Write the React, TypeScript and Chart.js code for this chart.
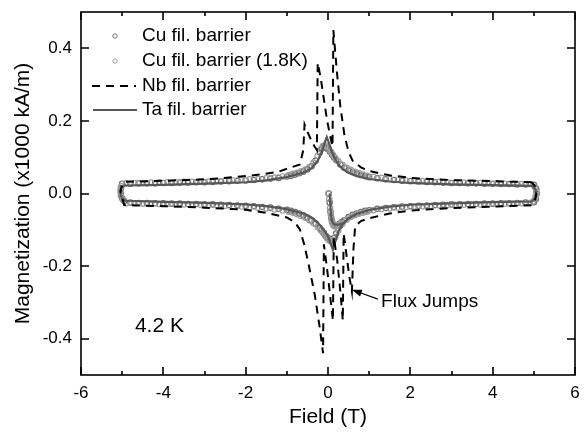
import React, { useEffect, useRef } from "react";
import { Chart, registerables } from "chart.js";

Chart.register(...registerables);

const FONT_FAMILY = '"Liberation Sans", Arial, Helvetica, sans-serif';

// Axis ticks: field (T) and magnetization (x1000 kA/m)
const fieldTicks = [-6, -4, -2, 0, 2, 4, 6];
const fieldMinorTicks = [-5, -3, -1, 1, 3, 5];
const magTicks = [-0.4, -0.2, 0.0, 0.2, 0.4];

const legendLabels = [
  "Cu fil. barrier",
  "Cu fil. barrier (1.8K)",
  "Nb fil. barrier",
  "Ta fil. barrier",
];
const temperatureLabel = "4.2 K";
const annotationLabel = "Flux Jumps";

// ---- Cu filament barrier, 4.2 K (open circles) ----
const cu42VirginField = [0.02, 0.04, 0.06, 0.08, 0.1, 0.13, 0.17, 0.22, 0.28, 0.34];
const cu42VirginM = [0.0, -0.025, -0.05, -0.067, -0.078, -0.086, -0.09, -0.088, -0.083, -0.078];

const cu42DownField = [
  5.0, 4.8, 4.6, 4.4, 4.2, 4.0, 3.8, 3.6, 3.4, 3.2, 3.0, 2.8, 2.6, 2.4, 2.2, 2.0, 1.8, 1.6, 1.4, 1.2, 1.0,
  0.9, 0.8, 0.7, 0.6, 0.5, 0.4, 0.3,
  0.2, 0.15, 0.1, 0.05, 0.0, -0.05, -0.1, -0.15, -0.2,
  -0.3, -0.4, -0.5, -0.6, -0.7, -0.8, -0.9,
  -1.0, -1.2, -1.4, -1.6, -1.8, -2.0, -2.2, -2.4, -2.6, -2.8, -3.0, -3.2, -3.4, -3.6, -3.8, -4.0, -4.2, -4.4, -4.6, -4.8, -5.0,
  -5.03, -5.03,
];
const cu42DownM = [
  0.024, 0.025, 0.025, 0.026, 0.026, 0.027, 0.027, 0.028, 0.028, 0.029, 0.029, 0.03, 0.031, 0.032, 0.033, 0.034, 0.035, 0.037, 0.039, 0.042, 0.045,
  0.048, 0.051, 0.055, 0.059, 0.064, 0.071, 0.08,
  0.092, 0.099, 0.107, 0.115, 0.122, 0.127, 0.129, 0.124, 0.113,
  0.09, 0.075, 0.066, 0.06, 0.056, 0.052, 0.049,
  0.047, 0.043, 0.041, 0.039, 0.037, 0.036, 0.035, 0.034, 0.033, 0.032, 0.031, 0.031, 0.03, 0.03, 0.029, 0.029, 0.028, 0.028, 0.028, 0.027, 0.027,
  0.014, 0.0,
];

const cu42UpField = [
  -5.0, -4.95,
  -4.8, -4.6, -4.4, -4.2, -4.0, -3.8, -3.6, -3.4, -3.2, -3.0, -2.8, -2.6, -2.4, -2.2, -2.0, -1.8, -1.6, -1.4, -1.2, -1.0,
  -0.9, -0.8, -0.7, -0.6, -0.5, -0.4, -0.3,
  -0.2, -0.15, -0.1, -0.05, 0.0, 0.05, 0.1, 0.15, 0.2,
  0.3, 0.4, 0.5, 0.6, 0.7, 0.8, 0.9,
  1.0, 1.2, 1.4, 1.6, 1.8, 2.0, 2.2, 2.4, 2.6, 2.8, 3.0, 3.2, 3.4, 3.6, 3.8, 4.0, 4.2, 4.4, 4.6, 4.8, 5.0,
  5.05, 5.07, 5.06,
];
const cu42UpM = [
  -0.013, -0.021,
  -0.025, -0.026, -0.026, -0.027, -0.027, -0.028, -0.028, -0.029, -0.029, -0.03, -0.03, -0.031, -0.032, -0.033, -0.034, -0.035, -0.037, -0.039, -0.042, -0.045,
  -0.048, -0.051, -0.055, -0.06, -0.066, -0.074, -0.083,
  -0.095, -0.102, -0.109, -0.117, -0.123, -0.127, -0.128, -0.122, -0.11,
  -0.088, -0.074, -0.065, -0.059, -0.055, -0.051, -0.048,
  -0.046, -0.042, -0.04, -0.038, -0.036, -0.035, -0.034, -0.033, -0.032, -0.031, -0.03, -0.03, -0.029, -0.029, -0.028, -0.028, -0.027, -0.027, -0.026, -0.025, -0.024,
  -0.015, 0.0, 0.012,
];

// ---- Cu filament barrier, 1.8 K (open circles) ----
const cu18VirginField = [0.01, 0.03, 0.05, 0.07, 0.09, 0.115, 0.15, 0.19, 0.25, 0.31];
const cu18VirginM = [0.0, -0.015, -0.04, -0.06, -0.073, -0.083, -0.089, -0.09, -0.087, -0.082];

const cu18DownField = [
  4.9, 4.7, 4.5, 4.3, 4.1, 3.9, 3.7, 3.5, 3.3, 3.1, 2.9, 2.7, 2.5, 2.3, 2.1, 1.9, 1.7, 1.5, 1.3, 1.1,
  0.95, 0.85, 0.75, 0.65, 0.55, 0.45, 0.35, 0.25,
  0.175, 0.125, 0.075, 0.025, -0.025, -0.075, -0.125, -0.175,
  -0.25, -0.35, -0.45, -0.55, -0.65, -0.75, -0.85, -0.95,
  -1.1, -1.3, -1.5, -1.7, -1.9, -2.1, -2.3, -2.5, -2.7, -2.9, -3.1, -3.3, -3.5, -3.7, -3.9, -4.1, -4.3, -4.5, -4.7, -4.9,
  -5.02, -5.04, -5.03, -4.98,
];
const cu18DownM = [
  0.026, 0.026, 0.027, 0.027, 0.028, 0.028, 0.029, 0.029, 0.03, 0.03, 0.031, 0.032, 0.033, 0.034, 0.035, 0.036, 0.038, 0.04, 0.043, 0.046,
  0.049, 0.052, 0.056, 0.06, 0.065, 0.071, 0.079, 0.089,
  0.098, 0.106, 0.114, 0.122, 0.129, 0.133, 0.131, 0.122,
  0.104, 0.085, 0.073, 0.066, 0.061, 0.057, 0.054, 0.051,
  0.047, 0.044, 0.042, 0.04, 0.039, 0.037, 0.036, 0.035, 0.034, 0.033, 0.033, 0.032, 0.032, 0.031, 0.031, 0.03, 0.03, 0.029, 0.029, 0.028,
  0.02, 0.007, -0.007, -0.018,
];

const cu18UpField = [
  -4.9, -4.7, -4.5, -4.3, -4.1, -3.9, -3.7, -3.5, -3.3, -3.1, -2.9, -2.7, -2.5, -2.3, -2.1, -1.9, -1.7, -1.5, -1.3, -1.1,
  -0.95, -0.85, -0.75, -0.65, -0.55, -0.45, -0.35, -0.25,
  -0.175, -0.125, -0.075, -0.025, 0.025, 0.075, 0.125, 0.175,
  0.25, 0.35, 0.45, 0.55, 0.65, 0.75, 0.85, 0.95,
  1.1, 1.3, 1.5, 1.7, 1.9, 2.1, 2.3, 2.5, 2.7, 2.9, 3.1, 3.3, 3.5, 3.7, 3.9, 4.1, 4.3, 4.5, 4.7, 4.9,
  4.98, 5.04, 5.06, 5.03,
];
const cu18UpM = [
  -0.027, -0.027, -0.028, -0.028, -0.029, -0.029, -0.03, -0.03, -0.031, -0.031, -0.032, -0.033, -0.034, -0.035, -0.036, -0.037, -0.039, -0.041, -0.044, -0.047,
  -0.05, -0.053, -0.057, -0.062, -0.067, -0.074, -0.082, -0.092,
  -0.101, -0.108, -0.116, -0.123, -0.129, -0.132, -0.129, -0.12,
  -0.101, -0.083, -0.072, -0.065, -0.06, -0.056, -0.053, -0.05,
  -0.046, -0.043, -0.041, -0.039, -0.037, -0.036, -0.035, -0.034, -0.033, -0.032, -0.031, -0.031, -0.03, -0.03, -0.029, -0.029, -0.028, -0.028, -0.027, -0.026,
  -0.022, -0.01, 0.004, 0.017,
];

// ---- Nb filament barrier (dashed, with flux jumps) ----
const nbDownField = [
  4.95, 4.0, 3.0, 2.0, 1.5, 1.0, 0.8, 0.6, 0.5, 0.4, 0.3, 0.22, 0.16, 0.13,
  0.11, 0.05, -0.02, -0.1, -0.18, -0.25,
  -0.27, -0.33, -0.42, -0.5, -0.57,
  -0.6, -0.68, -0.87, -1.2, -1.6, -2.0, -2.6, -3.0, -4.0, -4.95,
  -5.03, -5.04, -4.98,
];
const nbDownM = [
  0.031, 0.034, 0.037, 0.043, 0.05, 0.062, 0.072, 0.09, 0.115, 0.16, 0.24, 0.33, 0.41, 0.45,
  0.13, 0.16, 0.2, 0.26, 0.32, 0.36,
  0.12, 0.13, 0.15, 0.17, 0.19,
  0.12, 0.08, 0.073, 0.06, 0.053, 0.048, 0.042, 0.039, 0.035, 0.032,
  0.015, 0.0, -0.02,
];
const nbUpField = [
  -4.95, -4.0, -3.0, -2.6, -2.0, -1.5, -1.0, -0.8, -0.68, -0.58, -0.48, -0.4, -0.32, -0.2, -0.12,
  -0.1, -0.03, 0.04, 0.12,
  0.14, 0.22, 0.3, 0.36,
  0.38, 0.45, 0.52, 0.58,
  0.62, 0.66, 0.8, 1.0, 1.5, 2.0, 3.0, 4.0, 4.95,
  5.04, 5.06, 5.03, 4.95,
];
const nbUpM = [
  -0.032, -0.035, -0.039, -0.041, -0.045, -0.053, -0.066, -0.08, -0.1, -0.14, -0.19, -0.235, -0.28, -0.37, -0.44,
  -0.14, -0.2, -0.27, -0.35,
  -0.12, -0.18, -0.27, -0.35,
  -0.11, -0.17, -0.23, -0.27,
  -0.15, -0.09, -0.076, -0.068, -0.055, -0.047, -0.04, -0.036, -0.032,
  -0.015, 0.0, 0.02, 0.031,
];

// ---- Ta filament barrier (solid line) ----
const taVirginField = [0.04, 0.05, 0.06, 0.08, 0.11, 0.16, 0.25, 0.35];
const taVirginM = [0.0, -0.02, -0.04, -0.065, -0.08, -0.086, -0.086, -0.083];

const taDownField = [
  4.95, 4.0, 3.0, 2.0, 1.5, 1.0, 0.7, 0.5, 0.35, 0.25, 0.15, 0.08, 0.02, -0.03, -0.08, -0.15, -0.25, -0.4, -0.6,
  -1.0, -1.5, -2.0, -3.0, -4.0, -4.95, -5.03, -5.04, -5.01, -4.92,
];
const taDownM = [
  0.021, 0.023, 0.025, 0.029, 0.033, 0.04, 0.048, 0.057, 0.068, 0.08, 0.1, 0.12, 0.14, 0.155, 0.14, 0.115, 0.09, 0.07, 0.057,
  0.045, 0.036, 0.031, 0.027, 0.024, 0.022, 0.013, 0.0, -0.012, -0.02,
];
const taUpField = [
  -4.0, -3.0, -2.0, -1.5, -1.0, -0.6, -0.4, -0.25, -0.1, 0.0, 0.07, 0.12, 0.17, 0.25, 0.35, 0.5, 0.7,
  1.0, 1.5, 2.0, 3.0, 4.0, 4.95, 5.04, 5.06, 5.04, 4.95,
];
const taUpM = [
  -0.023, -0.026, -0.03, -0.035, -0.043, -0.055, -0.066, -0.08, -0.1, -0.118, -0.14, -0.155, -0.135, -0.105, -0.085, -0.068, -0.056,
  -0.045, -0.036, -0.031, -0.027, -0.024, -0.022, -0.012, 0.0, 0.012, 0.021,
];

const CU42_COLOR = "#6c6c6c";
const CU18_COLOR = "#9c9c9c";
const TA_COLOR = "#575757";
const NB_COLOR = "#000000";
const NB_DASH = [8, 6];
const CIRCLE_RADIUS = 2.7;

type Pt = { x: number; y: number };
const zip = (xs: number[], ys: number[]): Pt[] => xs.map((x, i) => ({ x, y: ys[i] }));

// Frame with inward ticks, legend and text labels drawn over the plot
const overlayPlugin = {
  id: "overlay",
  afterDraw(chart: any) {
    const { ctx, chartArea: a } = chart;
    const xs = chart.scales.x;
    const ys = chart.scales.y;
    ctx.save();

    // frame
    ctx.strokeStyle = "#000";
    ctx.lineWidth = 1.6;
    ctx.strokeRect(a.left, a.top, a.right - a.left, a.bottom - a.top);

    // inward tick marks on all four sides
    ctx.beginPath();
    for (const v of fieldTicks) {
      const px = Math.round(xs.getPixelForValue(v));
      ctx.moveTo(px, a.bottom);
      ctx.lineTo(px, a.bottom - 8);
      ctx.moveTo(px, a.top);
      ctx.lineTo(px, a.top + 8);
    }
    for (const v of fieldMinorTicks) {
      const px = Math.round(xs.getPixelForValue(v));
      ctx.moveTo(px, a.bottom);
      ctx.lineTo(px, a.bottom - 4);
      ctx.moveTo(px, a.top);
      ctx.lineTo(px, a.top + 4);
    }
    for (const v of magTicks) {
      const py = Math.round(ys.getPixelForValue(v));
      ctx.moveTo(a.left, py);
      ctx.lineTo(a.left + 8, py);
      ctx.moveTo(a.right, py);
      ctx.lineTo(a.right - 8, py);
    }
    ctx.stroke();

    // legend
    const lx = a.left + 11;
    const textX = a.left + 61;
    const rowY = [a.top + 24, a.top + 49, a.top + 74, a.top + 98];
    ctx.font = `19px ${FONT_FAMILY}`;
    ctx.fillStyle = "#000";
    ctx.textBaseline = "middle";
    ctx.textAlign = "left";
    legendLabels.forEach((label, i) => ctx.fillText(label, textX, rowY[i]));

    ctx.lineWidth = 1;
    ctx.strokeStyle = CU42_COLOR;
    ctx.beginPath();
    ctx.arc(lx + 23, rowY[0], 2.2, 0, Math.PI * 2);
    ctx.stroke();
    ctx.strokeStyle = CU18_COLOR;
    ctx.beginPath();
    ctx.arc(lx + 23, rowY[1], 2.2, 0, Math.PI * 2);
    ctx.stroke();

    ctx.lineWidth = 2;
    ctx.strokeStyle = NB_COLOR;
    ctx.setLineDash(NB_DASH);
    ctx.beginPath();
    ctx.moveTo(lx, rowY[2]);
    ctx.lineTo(lx + 44, rowY[2]);
    ctx.stroke();
    ctx.setLineDash([]);

    ctx.lineWidth = 2.2;
    ctx.strokeStyle = TA_COLOR;
    ctx.beginPath();
    ctx.moveTo(lx + 1, rowY[3]);
    ctx.lineTo(lx + 45, rowY[3]);
    ctx.stroke();

    // temperature label
    ctx.font = `21px ${FONT_FAMILY}`;
    ctx.fillStyle = "#000";
    ctx.fillText(temperatureLabel, xs.getPixelForValue(-4.69), ys.getPixelForValue(-0.365));

    // flux jump annotation with arrow
    const tipX = xs.getPixelForValue(0.58);
    const tipY = ys.getPixelForValue(-0.265);
    const tailX = xs.getPixelForValue(1.21);
    const tailY = ys.getPixelForValue(-0.291);
    const ang = Math.atan2(tipY - tailY, tipX - tailX);
    ctx.strokeStyle = "#000";
    ctx.lineWidth = 1.2;
    ctx.beginPath();
    ctx.moveTo(tailX, tailY);
    ctx.lineTo(tipX - 6 * Math.cos(ang), tipY - 6 * Math.sin(ang));
    ctx.stroke();
    ctx.fillStyle = "#000";
    ctx.beginPath();
    ctx.moveTo(tipX, tipY);
    ctx.lineTo(tipX - 10 * Math.cos(ang) + 3.5 * Math.sin(ang), tipY - 10 * Math.sin(ang) - 3.5 * Math.cos(ang));
    ctx.lineTo(tipX - 10 * Math.cos(ang) - 3.5 * Math.sin(ang), tipY - 10 * Math.sin(ang) + 3.5 * Math.cos(ang));
    ctx.closePath();
    ctx.fill();

    ctx.font = `19px ${FONT_FAMILY}`;
    ctx.fillText(annotationLabel, xs.getPixelForValue(1.29), ys.getPixelForValue(-0.297));

    ctx.restore();
  },
};

export default function App() {
  const canvasRef = useRef<HTMLCanvasElement | null>(null);

  useEffect(() => {
    document.body.style.margin = "0";
    const canvas = canvasRef.current;
    if (!canvas) return;

    const circleSet = (label: string, data: Pt[], color: string, order: number) => ({
      label,
      data,
      showLine: false,
      pointStyle: "circle",
      pointRadius: CIRCLE_RADIUS,
      pointBorderWidth: 1.2,
      pointBorderColor: color,
      pointBackgroundColor: "rgba(255,255,255,0)",
      borderColor: color,
      backgroundColor: "rgba(255,255,255,0)",
      order,
    });
    const lineSet = (label: string, data: Pt[], color: string, width: number, dash: number[], order: number) => ({
      label,
      data,
      showLine: true,
      borderColor: color,
      borderWidth: width,
      borderDash: dash,
      pointRadius: 0,
      fill: false,
      tension: 0,
      order,
    });

    const chart = new Chart(canvas, {
      type: "scatter",
      data: {
        datasets: [
          lineSet(legendLabels[2], [...zip(nbDownField, nbDownM), ...zip(nbUpField, nbUpM)], NB_COLOR, 2, NB_DASH, 0),
          lineSet(legendLabels[3], [...zip(taDownField, taDownM), ...zip(taUpField, taUpM)], TA_COLOR, 2.2, [], 1),
          lineSet(legendLabels[3] + " virgin", zip(taVirginField, taVirginM), TA_COLOR, 2.2, [], 1),
          circleSet(
            legendLabels[1],
            [...zip(cu18VirginField, cu18VirginM), ...zip(cu18DownField, cu18DownM), ...zip(cu18UpField, cu18UpM)],
            CU18_COLOR,
            2
          ),
          circleSet(
            legendLabels[0],
            [...zip(cu42VirginField, cu42VirginM), ...zip(cu42DownField, cu42DownM), ...zip(cu42UpField, cu42UpM)],
            CU42_COLOR,
            3
          ),
        ] as any,
      },
      options: {
        responsive: false,
        maintainAspectRatio: false,
        animation: false,
        devicePixelRatio: 1,
        layout: { padding: { top: 12, right: 10, left: 0, bottom: 0 } },
        plugins: {
          legend: { display: false },
          tooltip: { enabled: false },
        },
        scales: {
          x: {
            type: "linear",
            min: -6,
            max: 6,
            afterBuildTicks: (s: any) => {
              s.ticks = fieldTicks.map((v) => ({ value: v }));
            },
            afterFit: (s: any) => {
              s.height = 57;
              s.paddingLeft = 0;
              s.paddingRight = 0;
            },
            grid: { display: false, drawTicks: false },
            border: { display: false },
            ticks: {
              padding: 8,
              color: "#000",
              font: { family: FONT_FAMILY, size: 17 },
              callback: (v: any) => String(v),
            },
            title: {
              display: true,
              text: "Field (T)",
              color: "#000",
              font: { family: FONT_FAMILY, size: 21 },
              padding: { top: 0, bottom: 2 },
            },
          },
          y: {
            type: "linear",
            min: -0.5,
            max: 0.5,
            afterBuildTicks: (s: any) => {
              s.ticks = magTicks.map((v) => ({ value: v }));
            },
            afterFit: (s: any) => {
              s.width = 81;
              s.paddingTop = 0;
              s.paddingBottom = 0;
            },
            grid: { display: false, drawTicks: false },
            border: { display: false },
            ticks: {
              padding: 9,
              color: "#000",
              font: { family: FONT_FAMILY, size: 17 },
              callback: (v: any) => Number(v).toFixed(1),
            },
            title: {
              display: true,
              text: "Magnetization (x1000 kA/m)",
              color: "#000",
              font: { family: FONT_FAMILY, size: 21 },
              padding: { top: 11, bottom: 0 },
            },
          },
        },
      } as any,
      plugins: [overlayPlugin],
    });

    return () => chart.destroy();
  }, []);

  return (
    <div style={{ width: 585, height: 432 }}>
      <canvas ref={canvasRef} width={585} height={432} style={{ display: "block" }} />
    </div>
  );
}
